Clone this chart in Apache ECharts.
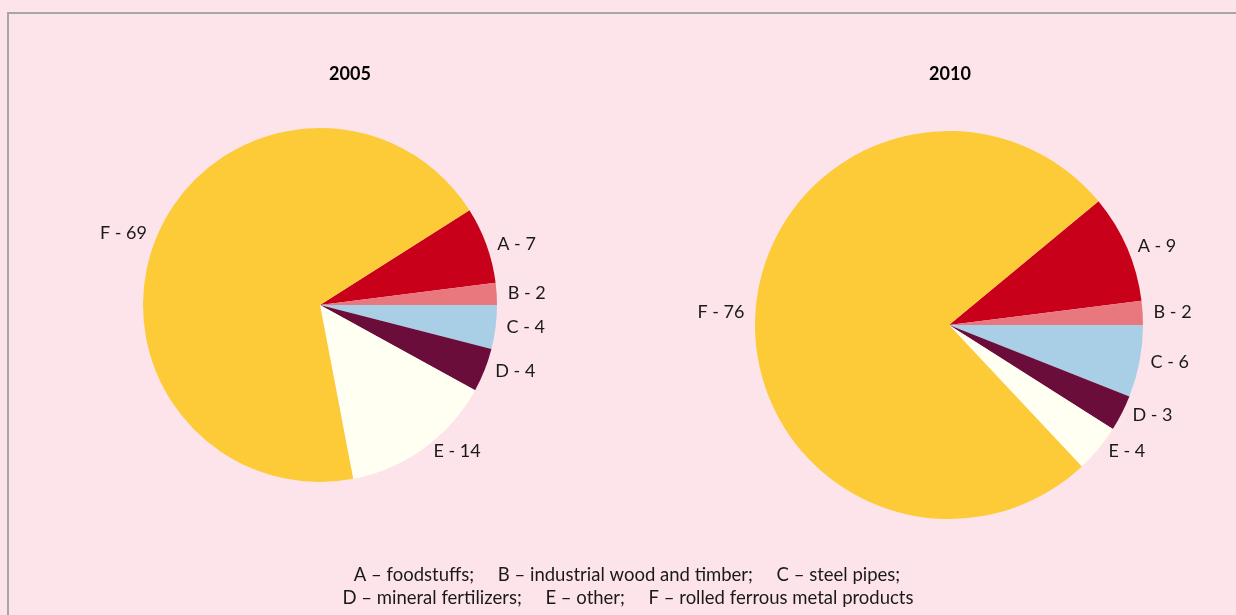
<!DOCTYPE html>
<html>
<head>
<meta charset="utf-8">
<script src="https://cdn.jsdelivr.net/npm/echarts@6/dist/echarts.min.js"></script>
<style>
  html, body { margin: 0; padding: 0; background: #fce4ea; }
  #chart { width: 1236px; height: 615px; }
</style>
</head>
<body>
<div id="chart"></div>
<script>
// === Data === //
const categories = ['A', 'B', 'C', 'D', 'E', 'F']
const years = ['2005', '2010']
const values2005 = [7, 2, 4, 4, 14, 69]
const values2010 = [9, 2, 6, 3, 4, 76]
const legendLines = [
  'A \u2013 foodstuffs;     B \u2013 industrial wood and timber;     C \u2013 steel pipes;',
  'D \u2013 mineral fertilizers;     E \u2013 other;     F \u2013 rolled ferrous metal products'
]

const colors = ['#c8001a', '#e8777e', '#a8cfe6', '#6b0d3b', '#fffff2', '#fdca38']
const font = 'Lato, "Open Sans", sans-serif'

// start so that A + B sit just above 3 o'clock, C starts right below
const startAngleOf = vals => {
  const total = vals.reduce((s, v) => s + v, 0)
  return (vals[0] + vals[1]) / total * 360
}

const makePie = (vals, center, radius) => ({
  type: 'pie',
  center,
  radius,
  clockwise: true,
  startAngle: startAngleOf(vals),
  animation: false,
  silent: true,
  itemStyle: { borderWidth: 0 },
  label: {
    show: true,
    position: 'outside',
    formatter: '{b} - {c}',
    color: '#1a1a1a',
    fontFamily: font,
    fontSize: 18
  },
  labelLine: { show: false, length: 4, length2: 2 },
  data: categories.map((c, i) => ({ name: c, value: vals[i], itemStyle: { color: colors[i] } }))
})

const myChart = echarts.init(document.getElementById('chart'))

myChart.setOption({
  backgroundColor: '#fce4ea',
  title: [
    { text: years[0], left: 345, top: 60, textAlign: 'center',
      textStyle: { fontFamily: font, fontSize: 18, fontWeight: 'bold', color: '#000' } },
    { text: years[1], left: 945, top: 60, textAlign: 'center',
      textStyle: { fontFamily: font, fontSize: 18, fontWeight: 'bold', color: '#000' } }
  ],
  graphic: [
    {
      type: 'rect',
      shape: { x: 8, y: 13, width: 1240, height: 620 },
      style: { fill: 'none', stroke: '#a6a6a6', lineWidth: 2 },
      silent: true
    },
    {
      type: 'text',
      x: 627, y: 575,
      style: { text: legendLines[0], fontFamily: font, fontSize: 18.5, fill: '#1a1a1a',
        textAlign: 'center', textVerticalAlign: 'middle' }
    },
    {
      type: 'text',
      x: 628, y: 598,
      style: { text: legendLines[1], fontFamily: font, fontSize: 18.5, fill: '#1a1a1a',
        textAlign: 'center', textVerticalAlign: 'middle' }
    }
  ],
  series: [
    makePie(values2005, [320, 305], 177),
    makePie(values2010, [949, 325], 194)
  ]
})
</script>
</body>
</html>
